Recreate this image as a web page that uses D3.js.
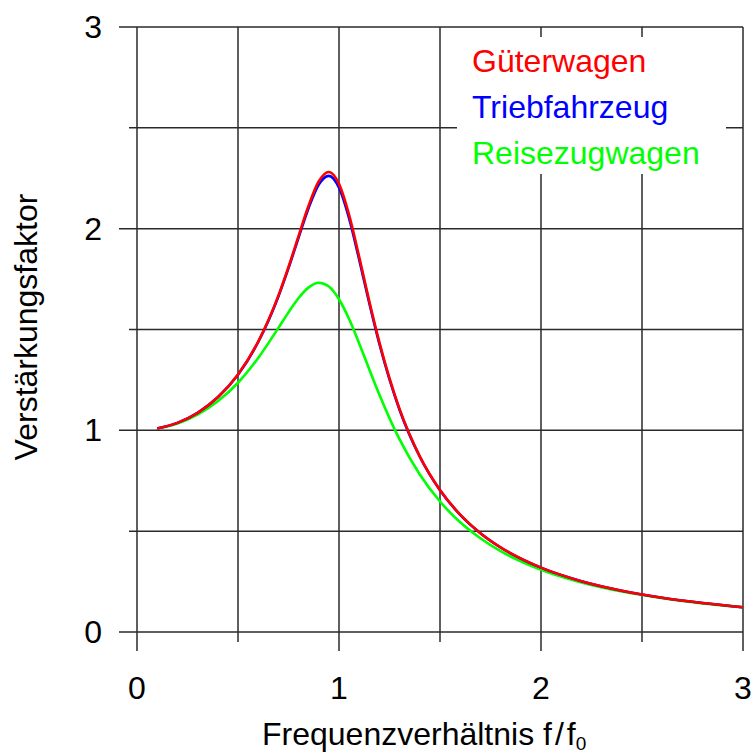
<!DOCTYPE html>
<html>
<head>
<meta charset="utf-8">
<script src="https://cdn.jsdelivr.net/npm/d3@7"></script>
<style>
  html, body { margin: 0; padding: 0; background: #fff; }
  svg { display: block; font-family: "Liberation Sans", Arial, sans-serif; }
</style>
</head>
<body>
<svg id="chart" width="753" height="753"></svg>
<script>
// ---- data ----
const ratio = [0.1,0.2,0.3,0.4,0.5,0.6,0.7,0.75,0.8,0.85,0.9,0.95,1.0,1.05,1.1,1.15,1.2,1.3,1.4,1.5,1.6,1.7,1.8,2.0,2.2,2.4,2.6,2.8,3.0];
const gueterwagen   = [1.009,1.037,1.087,1.164,1.277,1.440,1.668,1.810,1.964,2.116,2.235,2.281,2.222,2.068,1.860,1.640,1.436,1.105,0.871,0.704,0.582,0.490,0.420,0.319,0.252,0.205,0.170,0.144,0.123];
const triebfahrzeug = [1.009,1.037,1.087,1.164,1.276,1.438,1.664,1.804,1.956,2.104,2.219,2.262,2.203,2.051,1.846,1.630,1.428,1.101,0.869,0.703,0.581,0.490,0.419,0.319,0.252,0.205,0.170,0.144,0.123];
const reisezugwagen = [1.008,1.034,1.078,1.144,1.236,1.359,1.508,1.585,1.656,1.709,1.732,1.713,1.650,1.552,1.431,1.302,1.177,0.955,0.781,0.647,0.544,0.465,0.401,0.309,0.246,0.201,0.168,0.142,0.122];
const seriesNames  = ["Reisezugwagen","Triebfahrzeug","Güterwagen"];
const seriesColors = ["#00ff00","#0000ff","#ff0000"];
const legendNames  = ["Güterwagen","Triebfahrzeug","Reisezugwagen"];
const legendColors = ["#ff0000","#0000ff","#00ff00"];
const xTickLabels = [0,1,2,3];
const yTickLabels = [0,1,2,3];
const gridValues = [0,0.5,1,1.5,2,2.5,3];

// ---- layout ----
const svg = d3.select("#chart");
const L = 137, R = 743, T = 27, B = 632;
const x = d3.scaleLinear().domain([0,3]).range([L,R]);
const y = d3.scaleLinear().domain([0,3]).range([B,T]);
const gridColor = "#2a2a2a";
const fs = 32;

// grid
const g = svg.append("g");
gridValues.forEach(v => {
  const major = Number.isInteger(v);
  g.append("line")
    .attr("x1", L - (major ? 18 : 8)).attr("x2", R)
    .attr("y1", y(v)).attr("y2", y(v))
    .attr("stroke", gridColor).attr("stroke-width", 1.5);
  g.append("line")
    .attr("x1", x(v)).attr("x2", x(v))
    .attr("y1", T).attr("y2", B + (major ? 19 : 10))
    .attr("stroke", gridColor).attr("stroke-width", 1.5);
});

// legend background
svg.append("rect").attr("x",457).attr("y",37).attr("width",269).attr("height",137).attr("fill","#fff");

// curves
const allSeries = [reisezugwagen, triebfahrzeug, gueterwagen];
const line = d3.line().x((d,i)=>x(ratio[i])).y(d=>y(d)).curve(d3.curveMonotoneX);
allSeries.forEach((s, k) => {
  svg.append("path").datum(s)
    .attr("d", line)
    .attr("fill","none")
    .attr("stroke", seriesColors[k])
    .attr("stroke-width", 2.6)
    .attr("stroke-linejoin","round");
});

// tick labels
yTickLabels.forEach(v => {
  svg.append("text").attr("x", 102).attr("y", y(v) + 11)
    .attr("text-anchor","end").attr("font-size", fs).attr("fill","#000").text(v);
});
xTickLabels.forEach(v => {
  svg.append("text").attr("x", x(v)).attr("y", 699)
    .attr("text-anchor","middle").attr("font-size", fs).attr("fill","#000").text(v);
});

// legend
legendNames.forEach((n,i) => {
  svg.append("text").attr("x", 472).attr("y", 72 + i*46)
    .attr("font-size", fs).attr("fill", legendColors[i]).text(n);
});

// axis titles
svg.append("text")
  .attr("transform","translate(37,327) rotate(-90)")
  .attr("text-anchor","middle").attr("font-size", fs).attr("fill","#000")
  .text("Verstärkungsfaktor");

const xt = svg.append("text").attr("x", 262).attr("y", 745)
  .attr("font-size", fs).attr("fill","#000");
xt.append("tspan").text("Frequenzverhältnis f");
xt.append("tspan").attr("dx", 3).text("/");
xt.append("tspan").attr("dx", 3).text("f");
xt.append("tspan").attr("dy", 5).attr("font-size", 19).text("0");
</script>
</body>
</html>
